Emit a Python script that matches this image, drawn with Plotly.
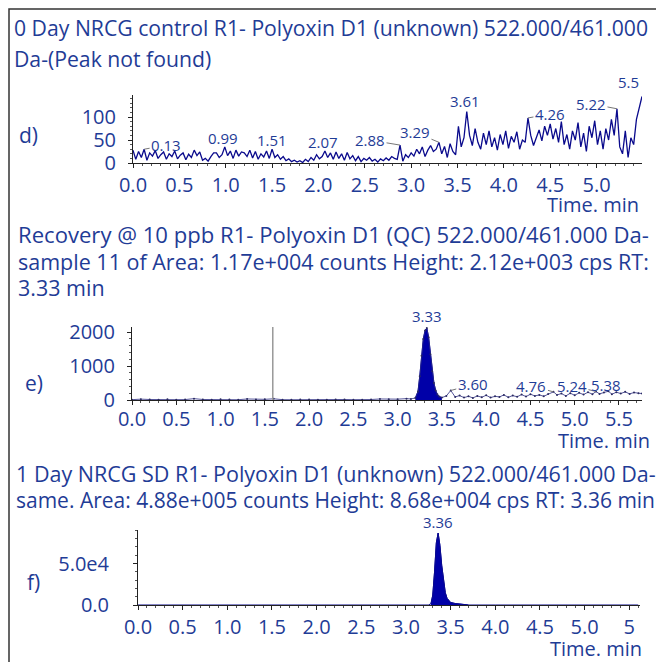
import numpy as np
import plotly.graph_objects as go

W, H = 656, 662
FONT = "Open Sans"
TXT = "#1f3c96"
LINE = "#0a0a8c"
FILL = "#0000a8"
AX = "#222222"

# ---------------- panel d data ----------------
d_start, d_step = 0.0, 0.03
d_counts = [
    28, 8, 25, 12, 30, 6, 22, 15, 27, 10,
    18, 24, 8, 20, 14, 26, 9, 17, 22, 7,
    19, 12, 28, 16, 24, 6, 10, 4, 14, 22,
    22, 12, 18, 35, 16, 26, 10, 28, 15, 24,
    22, 14, 28, 11, 25, 8, 20, 13, 26, 10,
    30, 12, 18, 8, 14, 5, 9, 3, 6, 2,
    5, 1, 8, 3, 12, 6, 18, 9, 14, 26,
    12, 22, 8, 24, 10, 20, 6, 23, 9, 16,
    5, 14, 3, 10, 6, 12, 4, 8, 2, 9,
    5, 11, 6, 14, 10, 8, 39, 4, 18, 12,
    22, 15, 30, 20, 35, 14, 28, 38, 25, 30,
    45, 20, 36, 12, 42, 25, 18, 80, 35, 55,
    112, 60, 38, 75, 45, 30, 65, 40, 70, 35,
    55, 28, 62, 40, 70, 32, 58, 45, 68, 30,
    50, 45, 98, 60, 38, 55, 72, 48, 80, 60,
    85, 52, 75, 45, 90, 40, 62, 30, 70, 50,
    88, 35, 65, 25, 80, 55, 92, 40, 70, 30,
    75, 50, 95, 60, 118, 35, 20, 70, 12, 55,
    40, 95, 120, 145,
]
d_time = np.round(d_start + d_step * np.arange(len(d_counts)), 2)
d_peak_labels = ["0.13", "0.99", "1.51", "2.07", "2.88", "3.29", "3.61", "4.26", "5.22", "5.5"]
d_peak_times = [0.12, 0.99, 1.50, 2.07, 2.88, 3.30, 3.60, 4.26, 5.22, 5.49]
d_peak_heights = [30, 35, 30, 26, 39, 45, 112, 98, 118, 145]

# ---------------- panel e data ----------------
e_time = [0.0, 0.1, 0.2, 0.3, 0.4, 0.5, 0.6, 0.7, 0.8, 0.9, 1.0, 1.1, 1.2, 1.3, 1.4,
          1.5, 1.6, 1.7, 1.8, 1.9, 2.0, 2.1, 2.2, 2.3, 2.4, 2.5, 2.6, 2.7, 2.8, 2.9,
          3.0, 3.1, 3.15, 3.2, 3.23, 3.25, 3.27, 3.29, 3.31, 3.33, 3.35, 3.37, 3.39,
          3.41, 3.43, 3.45, 3.47, 3.50, 3.55, 3.60, 3.65, 3.70, 3.75, 3.80, 3.85, 3.90,
          3.95, 4.00, 4.05, 4.10, 4.15, 4.20, 4.25, 4.30, 4.35, 4.40, 4.45, 4.50, 4.55,
          4.60, 4.65, 4.70, 4.76, 4.80, 4.85, 4.90, 4.95, 5.00, 5.05, 5.10, 5.15, 5.20,
          5.24, 5.28, 5.33, 5.38, 5.42, 5.47, 5.52, 5.57, 5.62, 5.67, 5.72, 5.76]
e_counts = [10, 25, 15, 8, 20, 10, 12, 40, 15, 10, 25, 12, 8, 30, 15,
            20, 35, 10, 8, 12, 15, 10, 8, 12, 15, 10, 8, 14, 30, 20,
            25, 40, 30, 60, 250, 700, 1300, 1800, 2050, 2120, 1850, 1350, 850,
            500, 280, 160, 100, 70, 120, 280, 90, 130, 70, 110, 60, 120,
            80, 140, 70, 110, 90, 150, 80, 130, 95, 160, 100, 170, 120,
            150, 110, 180, 240, 150, 190, 120, 200, 140, 210, 160, 230, 170,
            250, 180, 220, 260, 170, 230, 190, 240, 180, 220, 200, 190]
e_peak_range = (3.2, 3.5)
e_cursor_time = 1.59
e_peak_labels = ["3.33", "3.60", "4.76", "5.24", "5.38"]
e_peak_times = [3.33, 3.60, 4.76, 5.24, 5.38]
e_peak_heights = [2120, 280, 240, 250, 260]

# ---------------- panel f data ----------------
f_time = [0.0, 0.5, 1.0, 1.5, 2.0, 2.5, 3.0, 3.25, 3.28, 3.30, 3.32, 3.34, 3.36, 3.38,
          3.40, 3.42, 3.44, 3.46, 3.48, 3.50, 3.55, 3.60, 3.65, 3.70, 4.0, 4.5, 5.0, 5.6]
f_counts = [0, 0, 0, 0, 0, 0, 0, 0, 1500, 12000, 40000, 75000, 86800, 72000,
            48000, 28000, 15000, 8000, 5000, 3000, 1800, 1000, 500, 0, 0, 0, 0, 0]
f_peak_range = (3.27, 3.70)
f_peak_label = "3.36"
f_peak_time = 3.36
f_peak_height = 86800

titles_d = ["0 Day NRCG control R1- Polyoxin D1 (unknown) 522.000/461.000",
            "Da-(Peak not found)"]
titles_e = ["Recovery @ 10 ppb R1- Polyoxin D1 (QC) 522.000/461.000 Da-",
            "sample 11 of Area: 1.17e+004 counts Height: 2.12e+003 cps RT:",
            "3.33 min"]
titles_f = ["1 Day NRCG SD R1- Polyoxin D1 (unknown) 522.000/461.000 Da-",
            "same. Area: 4.88e+005 counts Height: 8.68e+004 cps RT: 3.36 min"]


def px(x):
    return x / W


def py(y):
    return 1 - y / H


fig = go.Figure()

# traces
fig.add_trace(go.Scatter(x=d_time, y=d_counts, mode="lines",
                         line=dict(color=LINE, width=1.3), xaxis="x", yaxis="y"))

e_t = np.array(e_time); e_c = np.array(e_counts)
m = (e_t >= e_peak_range[0]) & (e_t <= e_peak_range[1])
fig.add_trace(go.Scatter(x=e_t[m], y=e_c[m], mode="lines", fill="tozeroy",
                         fillcolor=FILL, line=dict(color=FILL, width=1),
                         xaxis="x2", yaxis="y2"))
fig.add_trace(go.Scatter(x=e_t, y=e_c, mode="lines+markers",
                         line=dict(color="#2a2a80", width=0.8),
                         marker=dict(size=2, color="#2a2a60"),
                         xaxis="x2", yaxis="y2"))

f_t = np.array(f_time); f_c = np.array(f_counts)
mf = (f_t >= f_peak_range[0]) & (f_t <= f_peak_range[1])
fig.add_trace(go.Scatter(x=f_t[mf], y=f_c[mf], mode="lines", fill="tozeroy",
                         fillcolor=FILL, line=dict(color=FILL, width=1),
                         xaxis="x3", yaxis="y3"))
fig.add_trace(go.Scatter(x=f_t, y=f_c, mode="lines",
                         line=dict(color=LINE, width=1),
                         xaxis="x3", yaxis="y3"))

fig.add_shape(type="line", xref="x2", yref="y2", x0=e_cursor_time, x1=e_cursor_time,
              y0=0, y1=2150, line=dict(color="#999999", width=1.5))


def xaxis(domain, rng, anchor, tickvals, ticktext, standoff):
    return dict(domain=domain, range=rng, anchor=anchor, showline=True,
                linecolor=AX, linewidth=1, ticks="outside", ticklen=4,
                tickcolor=AX, tickvals=tickvals, ticktext=ticktext,
                tickfont=dict(size=20, color=TXT, family=FONT),
                ticklabelstandoff=standoff, automargin=False,
                showgrid=False, zeroline=False,
                minor=dict(ticks="outside", ticklen=2, tickcolor="#555", dtick=0.1))


def yaxis(domain, rng, anchor, tickvals, ticktext, standoff, mdt):
    return dict(domain=domain, range=rng, anchor=anchor, showline=True,
                linecolor=AX, linewidth=1, ticks="outside", ticklen=4,
                tickcolor=AX, tickvals=tickvals, ticktext=ticktext,
                tickfont=dict(size=20, color=TXT, family=FONT),
                ticklabelstandoff=standoff, automargin=False,
                showgrid=False, zeroline=False,
                minor=dict(ticks="outside", ticklen=2, tickcolor="#555", dtick=mdt))


xt = [0, 0.5, 1.0, 1.5, 2.0, 2.5, 3.0, 3.5, 4.0, 4.5, 5.0, 5.5]
xt_d = ["0.0", "0.5", "1.0", "1.5", "2.0", "2.5", "3.0", "3.5", "4.0", "4.5", "5.0", "5"]
xt_e = ["0.0", "0.5", "1.0", "1.5", "2.0", "2.5", "3.0", "3.5", "4.0", "4.5", "5.0", "5.5"]

fig.update_layout(
    width=W, height=H, margin=dict(l=0, r=0, t=0, b=0, autoexpand=False),
    template="none",
    paper_bgcolor="white", plot_bgcolor="white", showlegend=False,
    font=dict(family=FONT, color=TXT),
    xaxis=xaxis([px(133), px(642)], [0, 5.49], "y", xt, xt_d, 0),
    yaxis=yaxis([py(163), py(95)], [0, 148], "x", [0, 50, 100], ["0", "50", "100"], 8, 10),
    xaxis2=xaxis([px(132), px(642)], [0, 5.76], "y2", xt, xt_e, -3),
    yaxis2=yaxis([py(400), py(327)], [0, 2150], "x2", [0, 1000, 2000], ["0", "1000", "2000"], 8, 200),
    xaxis3=xaxis([px(138), px(640)], [0, 5.62], "y3", xt, xt_d, 0),
    yaxis3=yaxis([py(605), py(530)], [0, 90500], "x3", [0, 50000], ["0.0", "5.0e4"], 20, 10000),
)

ann = []


def title_lines(lines, ys, x0, sizes):
    for t, y, s in zip(lines, ys, sizes):
        ann.append(dict(text=t, x=px(x0), y=py(y), xref="paper", yref="paper",
                        xanchor="left", yanchor="middle", showarrow=False,
                        font=dict(size=s, color=TXT, family=FONT)))


title_lines(titles_d, [28, 58], 12, [21.2, 21.2])
title_lines(titles_e, [234, 262, 288], 16, [22.1, 21.5, 21.5])
title_lines(titles_f, [473, 500], 14, [21.5, 21.0])

for lab, x, y in [("d)", 28, 135), ("e)", 34, 383), ("f)", 33, 582)]:
    ann.append(dict(text=lab, x=px(x), y=py(y), xref="paper", yref="paper",
                    xanchor="center", yanchor="middle", showarrow=False,
                    font=dict(size=21, color=TXT, family=FONT)))

for x, y in [(641, 204), (652, 441), (644, 648)]:
    ann.append(dict(text="Time. min", x=px(x), y=py(y), xref="paper", yref="paper",
                    xanchor="right", yanchor="middle", showarrow=False,
                    font=dict(size=20, color=TXT, family=FONT)))

# peak labels: (dx, dy) pixel offsets of the label from its peak; leader drawn if flagged
d_offsets = [(22, -4, True), (-2, -3, False), (0, -3, False), (-2, -3, False),
             (-30, -5, True), (-24, -10, True), (-2, -1, False), (22, -4, True),
             (-26, -5, True), (-14, 2, False)]
for lab, t, h, (dx, dy, arrow) in zip(d_peak_labels, d_peak_times, d_peak_heights, d_offsets):
    if arrow:
        ann.append(dict(text=lab, x=t, y=h, xref="x", yref="y", showarrow=True,
                        arrowhead=0, arrowwidth=1, arrowcolor="#777", ax=dx, ay=dy,
                        font=dict(size=15, color=TXT, family=FONT)))
    else:
        ann.append(dict(text=lab, x=t, y=h, xref="x", yref="y", showarrow=False,
                        xshift=dx, yshift=dy, yanchor="bottom",
                        font=dict(size=15, color=TXT, family=FONT)))

e_offsets = [(0, 0, False), (22, -6, True), (-22, -6, True), (-24, -6, True), (-2, -6, False)]
for lab, t, h, (dx, dy, arrow) in zip(e_peak_labels, e_peak_times, e_peak_heights, e_offsets):
    if arrow:
        ann.append(dict(text=lab, x=t, y=h, xref="x2", yref="y2", showarrow=True,
                        arrowhead=0, arrowwidth=1, arrowcolor="#777", ax=dx, ay=dy,
                        font=dict(size=15, color=TXT, family=FONT)))
    else:
        ann.append(dict(text=lab, x=t, y=h, xref="x2", yref="y2", showarrow=False,
                        xshift=dx, yshift=dy, yanchor="bottom",
                        font=dict(size=15, color=TXT, family=FONT)))

ann.append(dict(text=f_peak_label, x=f_peak_time, y=f_peak_height, xref="x3", yref="y3",
                showarrow=False, yanchor="bottom", yshift=-1,
                font=dict(size=15, color=TXT, family=FONT)))

fig.update_layout(annotations=ann)

fig.add_shape(type="rect", xref="paper", yref="paper", x0=px(9), x1=px(670),
              y0=py(680), y1=py(9), line=dict(color="#333", width=1.5))

fig.write_html("out.html", config={"displayModeBar": False},
               post_script="document.body.style.margin='0px';document.body.style.overflow='hidden';")
